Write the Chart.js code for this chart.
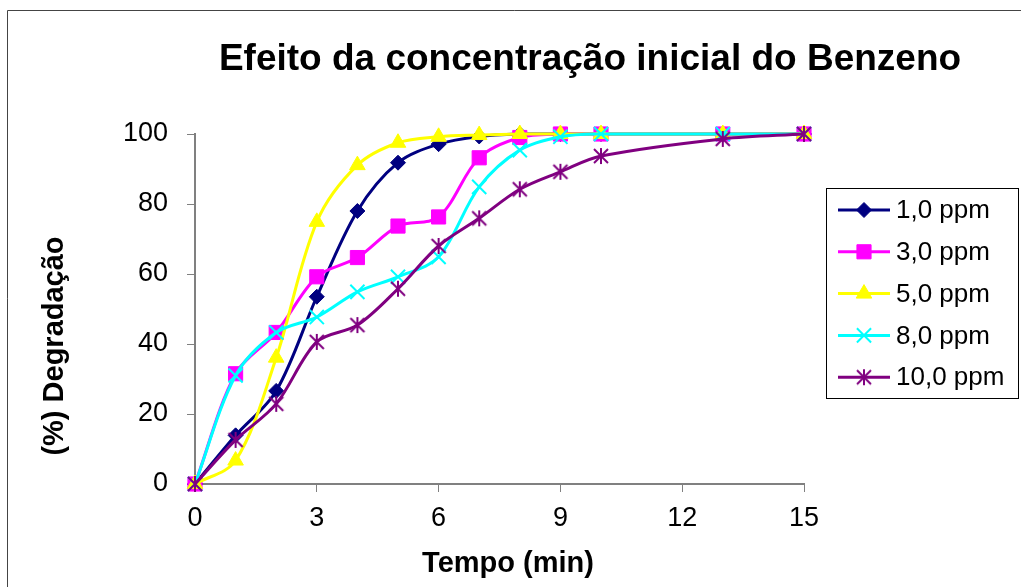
<!DOCTYPE html>
<html>
<head>
<meta charset="utf-8">
<title>Efeito da concentração inicial do Benzeno</title>
<script src="https://cdn.jsdelivr.net/npm/chart.js"></script>
<style>
    html, body { margin: 0; padding: 0; background: #fff; }
    #wrap { position: relative; width: 1021px; height: 587px; }
</style>
</head>
<body>
<div id="wrap"><canvas id="benzenoChart"></canvas></div>
<script>
// Dados
const tempo = [0, 1, 2, 3, 4, 5, 6, 7, 8, 9, 10, 13, 15];
const ppm1 = [0, 13.9, 26.6, 53.5, 78.0, 91.8, 97.1, 99.3, 100, 100, 100, 100, 100];
const ppm3 = [0, 31.5, 43.3, 59.2, 64.7, 73.7, 76.3, 93.2, 99.0, 100, 100, 100, 100];
const ppm5 = [0, 6.7, 36.1, 74.9, 91.1, 97.5, 99.2, 99.7, 100, 100, 100, 100, 100];
const ppm8 = [0, 31.0, 43.3, 47.7, 54.9, 59.2, 64.9, 84.9, 95.4, 99.2, 100, 100, 100];
const ppm10 = [0, 12.6, 22.9, 40.6, 45.4, 55.8, 68.0, 75.9, 84.2, 89.2, 93.7, 98.6, 100];
const seriesNames = ['1,0 ppm', '3,0 ppm', '5,0 ppm', '8,0 ppm', '10,0 ppm'];
const xTicks = [0, 3, 6, 9, 12, 15];
const yTicks = [0, 20, 40, 60, 80, 100];

const FONT = 'Arial, "Liberation Sans", sans-serif';

document.addEventListener('DOMContentLoaded', function() {
    initBenzenoChart();
});

// asterisco do Excel (X + barra vertical)
function makeStar(color) {
    const c = document.createElement('canvas');
    c.width = 18;
    c.height = 18;
    const g = c.getContext('2d');
    g.strokeStyle = color;
    g.lineWidth = 2;
    g.beginPath();
    g.moveTo(9, 1); g.lineTo(9, 17);
    g.moveTo(2, 2); g.lineTo(16, 16);
    g.moveTo(16, 2); g.lineTo(2, 16);
    g.stroke();
    return c;
}

function serie(label, values, color, style, radius, borderW, order) {
    return {
        label: label,
        data: tempo.map((t, i) => ({ x: t, y: values[i] })),
        borderColor: color,
        backgroundColor: color,
        pointBackgroundColor: color,
        pointBorderColor: color,
        pointStyle: style,
        pointRadius: radius,
        pointBorderWidth: borderW,
        borderWidth: 3,
        tension: 0.33,
        fill: false,
        clip: false,
        order: order
    };
}

// título, eixos e legenda desenhados à mão
const decoracao = {
    id: 'decoracao',
    afterDraw(chart) {
        const ctx = chart.ctx;
        ctx.save();

        // moldura
        ctx.strokeStyle = '#444';
        ctx.lineWidth = 1;
        ctx.beginPath();
        ctx.moveTo(7.5, 587);
        ctx.lineTo(7.5, 10.5);
        ctx.lineTo(1021, 10.5);
        ctx.stroke();

        ctx.fillStyle = '#000';
        ctx.textAlign = 'center';
        ctx.textBaseline = 'alphabetic';
        ctx.font = 'bold 37px ' + FONT;
        ctx.fillText('Efeito da concentração inicial do Benzeno', 590, 70);

        ctx.font = 'bold 29px ' + FONT;
        ctx.fillText('Tempo (min)', 508, 572);

        ctx.save();
        ctx.translate(63, 346);
        ctx.rotate(-Math.PI / 2);
        ctx.fillText('(%) Degradação', 0, 0);
        ctx.restore();

        // legenda
        ctx.strokeStyle = '#000';
        ctx.lineWidth = 1;
        ctx.strokeRect(826.5, 188.5, 192, 210);
        ctx.font = '26px ' + FONT;
        ctx.textAlign = 'left';
        ctx.textBaseline = 'middle';
        chart.data.datasets.forEach((ds, i) => {
            const y = 210 + i * 41.8;
            ctx.strokeStyle = ds.borderColor;
            ctx.lineWidth = 3;
            ctx.beginPath();
            ctx.moveTo(838, y);
            ctx.lineTo(890, y);
            ctx.stroke();
            ctx.fillStyle = ds.pointBackgroundColor;
            ctx.strokeStyle = ds.pointBorderColor;
            ctx.lineWidth = ds.pointBorderWidth;
            Chart.helpers.drawPoint(ctx, {
                pointStyle: ds.pointStyle,
                radius: ds.pointRadius,
                borderWidth: ds.pointBorderWidth,
                rotation: 0
            }, 864, y);
            ctx.fillStyle = '#000';
            ctx.fillText(ds.label, 896, y + 1);
        });
        ctx.restore();
    }
};

function initBenzenoChart() {
    const ctx = document.getElementById('benzenoChart').getContext('2d');

    new Chart(ctx, {
        type: 'line',
        data: {
            datasets: [
                serie(seriesNames[0], ppm1, '#000080', 'rectRot', 7.5, 1, 5),
                serie(seriesNames[1], ppm3, '#FF00FF', 'rect', 10, 1, 4),
                serie(seriesNames[2], ppm5, '#FFFF00', 'triangle', 9, 1, 3),
                serie(seriesNames[3], ppm8, '#00FFFF', 'crossRot', 10, 2, 2),
                serie(seriesNames[4], ppm10, '#800080', makeStar('#800080'), 9, 2, 1)
            ]
        },
        options: {
            responsive: true,
            maintainAspectRatio: false,
            animation: false,
            layout: {
                padding: { top: 134, right: 217, left: 0, bottom: 0 }
            },
            plugins: {
                legend: { display: false },
                title: { display: false },
                tooltip: { enabled: false }
            },
            scales: {
                x: {
                    type: 'linear',
                    min: 0,
                    max: 15,
                    afterBuildTicks: axis => { axis.ticks = xTicks.map(v => ({ value: v })); },
                    afterFit: scale => { scale.height = 103; },
                    grid: {
                        drawOnChartArea: false,
                        tickLength: 8,
                        color: '#808080'
                    },
                    border: { color: '#808080', width: 2 },
                    ticks: {
                        color: '#000',
                        padding: 10,
                        maxRotation: 0,
                        font: { family: FONT, size: 27 }
                    }
                },
                y: {
                    min: 0,
                    max: 100,
                    afterBuildTicks: axis => { axis.ticks = yTicks.map(v => ({ value: v })); },
                    afterFit: scale => { scale.width = 195; },
                    grid: {
                        drawOnChartArea: false,
                        tickLength: 8,
                        color: '#808080'
                    },
                    border: { color: '#808080', width: 2 },
                    ticks: {
                        color: '#000',
                        padding: 19,
                        font: { family: FONT, size: 27 }
                    }
                }
            }
        },
        plugins: [decoracao]
    });
}
</script>
</body>
</html>
